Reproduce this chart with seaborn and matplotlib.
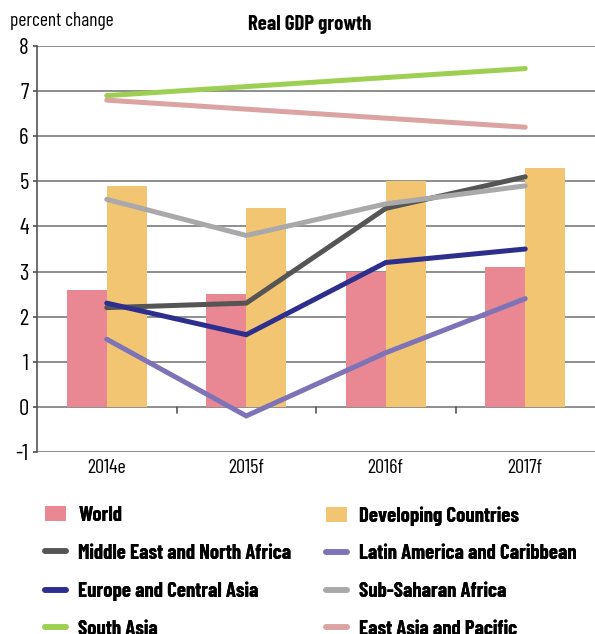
import matplotlib
matplotlib.use("Agg")
import matplotlib.pyplot as plt
from matplotlib.patches import Patch
from matplotlib.lines import Line2D
from matplotlib import font_manager
import seaborn as sns
import pandas as pd
import numpy as np

# Data
years = ["2014e", "2015f", "2016f", "2017f"]
world = [2.6, 2.5, 3.0, 3.1]
developing = [4.9, 4.4, 5.0, 5.3]
mena = [2.2, 2.3, 4.4, 5.1]
eca = [2.3, 1.6, 3.2, 3.5]
south_asia = [6.9, 7.1, 7.3, 7.5]
lac = [1.5, -0.2, 1.2, 2.4]
ssa = [4.6, 3.8, 4.5, 4.9]
eap = [6.8, 6.6, 6.4, 6.2]

bar_series = {"World": world, "Developing Countries": developing}
line_series = {
    "Middle East and North Africa": mena,
    "Europe and Central Asia": eca,
    "South Asia": south_asia,
    "Latin America and Caribbean": lac,
    "Sub-Saharan Africa": ssa,
    "East Asia and Pacific": eap,
}
colors = {
    "World": "#E98893",
    "Developing Countries": "#F2C572",
    "Middle East and North Africa": "#555555",
    "Europe and Central Asia": "#2E2E8F",
    "South Asia": "#9CCF52",
    "Latin America and Caribbean": "#7F73B8",
    "Sub-Saharan Africa": "#A9A9AB",
    "East Asia and Pacific": "#DBA3A1",
}

sns.set_theme(style="white")
installed = {f.name for f in font_manager.fontManager.ttflist}
base = next((f for f in ["Barlow Condensed", "Roboto Condensed", "Fira Sans Condensed",
                         "Oswald", "Liberation Sans Narrow"] if f in installed), "DejaVu Sans")
plt.rcParams["font.family"] = [base, "DejaVu Sans"]
plt.rcParams["axes.unicode_minus"] = False
plt.rcParams["text.color"] = "black"
plt.rcParams["xtick.color"] = "black"
plt.rcParams["ytick.color"] = "black"

fig = plt.figure(figsize=(5.95, 6.34), dpi=100)
ax = fig.add_axes([37 / 595, 1 - 452 / 634, 1 - 37 / 595, (452 - 46) / 634])

bars = pd.DataFrame({
    "year": years * 2,
    "value": world + developing,
    "series": ["World"] * 4 + ["Developing Countries"] * 4,
})
sns.barplot(data=bars, x="year", y="value", hue="series", order=years,
            hue_order=["World", "Developing Countries"],
            palette=[colors["World"], colors["Developing Countries"]],
            width=0.575, gap=0, saturation=1, legend=False, linewidth=0,
            ax=ax, zorder=2)

pos = np.arange(len(years))
for name, vals in line_series.items():
    df = pd.DataFrame({"x": pos, "y": vals})
    sns.lineplot(data=df, x="x", y="y", color=colors[name], linewidth=3.6,
                 solid_capstyle="round", solid_joinstyle="miter", ax=ax, zorder=3)

ax.set_xlim(-0.5, 3.5)
ax.set_ylim(-1, 8)
ax.set_yticks(range(-1, 9))
ax.yaxis.grid(True, color="#707070", linewidth=1.1, zorder=1)
ax.set_axisbelow(True)
for s in ["top", "right", "bottom"]:
    ax.spines[s].set_visible(False)
ax.spines["left"].set_color("#555555")
ax.spines["left"].set_linewidth(1.2)
ax.tick_params(axis="y", length=3, color="#555555", labelsize=16.5, pad=3, left=True)
ax.tick_params(axis="x", length=0, labelsize=14.5, pad=5)
ax.set_xlabel("")
ax.set_ylabel("")

# category dividers on the zero line
for b in [0.5, 1.5, 2.5]:
    ax.plot([b, b], [0, -0.13], color="#555555", linewidth=1.2, zorder=2)

fig.text(10 / 595, 1 - 21 / 634, "percent change", fontsize=14, va="center", ha="left")
fig.text(310 / 595, 1 - 25 / 634, "Real GDP growth", fontsize=15, fontweight="bold",
         va="center", ha="center")


def make_handle(name):
    if name in bar_series:
        return Patch(facecolor=colors[name], edgecolor="none")
    return Line2D([], [], color=colors[name], linewidth=4, solid_capstyle="round")


columns = [
    (["World", "Middle East and North Africa", "Europe and Central Asia", "South Asia"], 45),
    (["Developing Countries", "Latin America and Caribbean", "Sub-Saharan Africa",
      "East Asia and Pacific"], 326),
]
for names, x0 in columns:
    leg = fig.legend([make_handle(n) for n in names], names, loc="upper left",
                     bbox_to_anchor=(x0 / 595, 1 - 506 / 634), frameon=False,
                     prop={"size": 15, "weight": "bold"}, handlelength=1.0,
                     handleheight=0.7, handletextpad=0.6, labelspacing=0.9,
                     borderpad=0, borderaxespad=0)
    fig.add_artist(leg)

fig.savefig("out.png", dpi=100)
